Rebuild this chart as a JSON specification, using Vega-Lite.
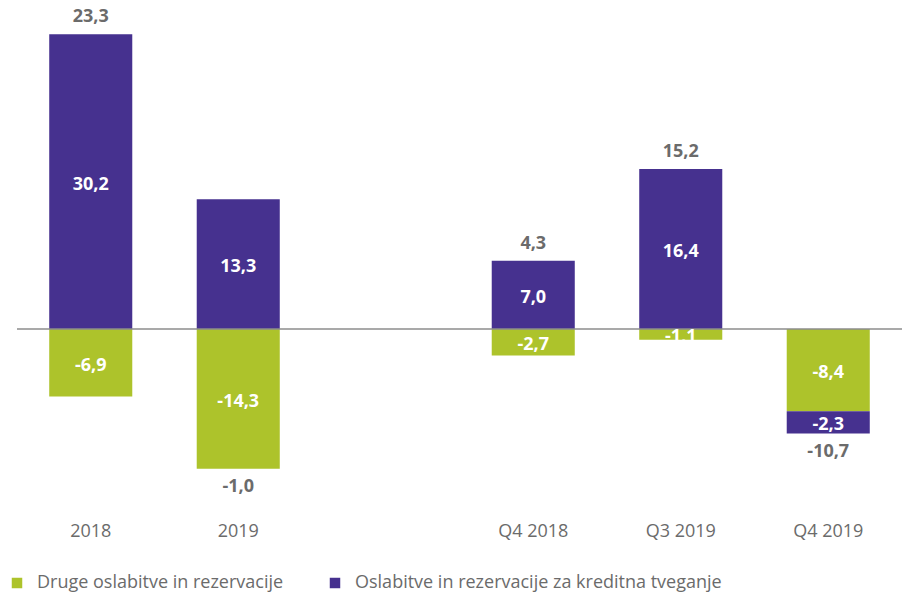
{
  "$schema": "https://vega.github.io/schema/vega-lite/v6.json",
  "width": 885,
  "height": 500,
  "autosize": "none",
  "padding": {"left": 17, "top": 0, "right": 0, "bottom": 92},
  "config": {
    "view": {"stroke": null},
    "locale": {"number": {"decimal": ",", "thousands": ".", "grouping": [3], "currency": ["", " €"], "minus": "-"}}
  },
  "data": {
    "values": [
      {"cat": "2018", "series": "Druge oslabitve in rezervacije", "value": -6.9, "total": 23.3},
      {"cat": "2018", "series": "Oslabitve in rezervacije za kreditna tveganje", "value": 30.2, "total": 23.3},
      {"cat": "2019", "series": "Druge oslabitve in rezervacije", "value": -14.3, "total": -1.0},
      {"cat": "2019", "series": "Oslabitve in rezervacije za kreditna tveganje", "value": 13.3, "total": -1.0},
      {"cat": "Q4 2018", "series": "Druge oslabitve in rezervacije", "value": -2.7, "total": 4.3},
      {"cat": "Q4 2018", "series": "Oslabitve in rezervacije za kreditna tveganje", "value": 7.0, "total": 4.3},
      {"cat": "Q3 2019", "series": "Druge oslabitve in rezervacije", "value": -1.1, "total": 15.2},
      {"cat": "Q3 2019", "series": "Oslabitve in rezervacije za kreditna tveganje", "value": 16.4, "total": 15.2},
      {"cat": "Q4 2019", "series": "Druge oslabitve in rezervacije", "value": -8.4, "total": -10.7},
      {"cat": "Q4 2019", "series": "Oslabitve in rezervacije za kreditna tveganje", "value": -2.3, "total": -10.7}
    ]
  },
  "transform": [
    {"stack": "value", "groupby": ["cat"], "sort": [{"field": "series", "order": "ascending"}], "as": ["v0", "v1"]},
    {"calculate": "(datum.v0 + datum.v1) / 2", "as": "mid"},
    {"calculate": "max(datum.v0, datum.v1)", "as": "hi"},
    {"calculate": "min(datum.v0, datum.v1)", "as": "lo"},
    {"joinaggregate": [{"op": "max", "field": "hi", "as": "top"}, {"op": "min", "field": "lo", "as": "bot"}], "groupby": ["cat"]}
  ],
  "layer": [
    {
      "mark": {"type": "bar"},
      "encoding": {
        "x": {
          "field": "cat", "type": "nominal",
          "scale": {"domain": ["2018", "2019", " ", "Q4 2018", "Q3 2019", "Q4 2019"], "paddingInner": 0.437, "paddingOuter": 0.2185},
          "axis": {"title": null, "labelAngle": 0, "domain": false, "ticks": false, "labelPadding": 22, "labelFont": "Open Sans", "labelFontSize": 18, "labelColor": "#6b6b6b"}
        },
        "y": {"field": "v0", "type": "quantitative", "scale": {"domain": [-17.5, 33.7], "nice": false, "zero": false}, "axis": null},
        "y2": {"field": "v1"},
        "color": {
          "field": "series", "type": "nominal",
          "scale": {"domain": ["Druge oslabitve in rezervacije", "Oslabitve in rezervacije za kreditna tveganje"], "range": ["#adc32b", "#46318f"]},
          "legend": {
            "title": null, "orient": "none", "legendX": -9, "legendY": 574, "direction": "horizontal",
            "symbolType": "square", "symbolSize": 110, "symbolStrokeWidth": 0, "symbolOffset": 0,
            "labelFont": "Open Sans", "labelFontSize": 18, "labelColor": "#6b6b6b", "labelOffset": 11, "labelLimit": 600,
            "columnPadding": 42
          }
        }
      }
    },
    {
      "data": {"values": [{}]},
      "mark": {"type": "rule", "color": "#8c8c8c", "strokeWidth": 1.5},
      "encoding": {"y": {"datum": 0, "type": "quantitative"}}
    },
    {
      "mark": {"type": "text", "color": "#ffffff", "font": "Open Sans", "fontWeight": "bold", "fontSize": 18, "baseline": "middle", "dy": 3},
      "encoding": {
        "x": {"field": "cat", "type": "nominal"},
        "y": {"field": "mid", "type": "quantitative"},
        "text": {"field": "value", "type": "quantitative", "format": ".1f"}
      }
    },
    {
      "transform": [
        {"filter": "datum.series == 'Oslabitve in rezervacije za kreditna tveganje' && datum.total >= 0"}
      ],
      "mark": {"type": "text", "color": "#6b6b6b", "font": "Open Sans", "fontWeight": "bold", "fontSize": 18, "baseline": "middle", "dy": -17},
      "encoding": {
        "x": {"field": "cat", "type": "nominal"},
        "y": {"field": "top", "type": "quantitative"},
        "text": {"field": "total", "type": "quantitative", "format": ".1f"}
      }
    },
    {
      "transform": [
        {"filter": "datum.series == 'Oslabitve in rezervacije za kreditna tveganje' && datum.total < 0"}
      ],
      "mark": {"type": "text", "color": "#6b6b6b", "font": "Open Sans", "fontWeight": "bold", "fontSize": 18, "baseline": "middle", "dy": 18},
      "encoding": {
        "x": {"field": "cat", "type": "nominal"},
        "y": {"field": "bot", "type": "quantitative"},
        "text": {"field": "total", "type": "quantitative", "format": ".1f"}
      }
    }
  ]
}
